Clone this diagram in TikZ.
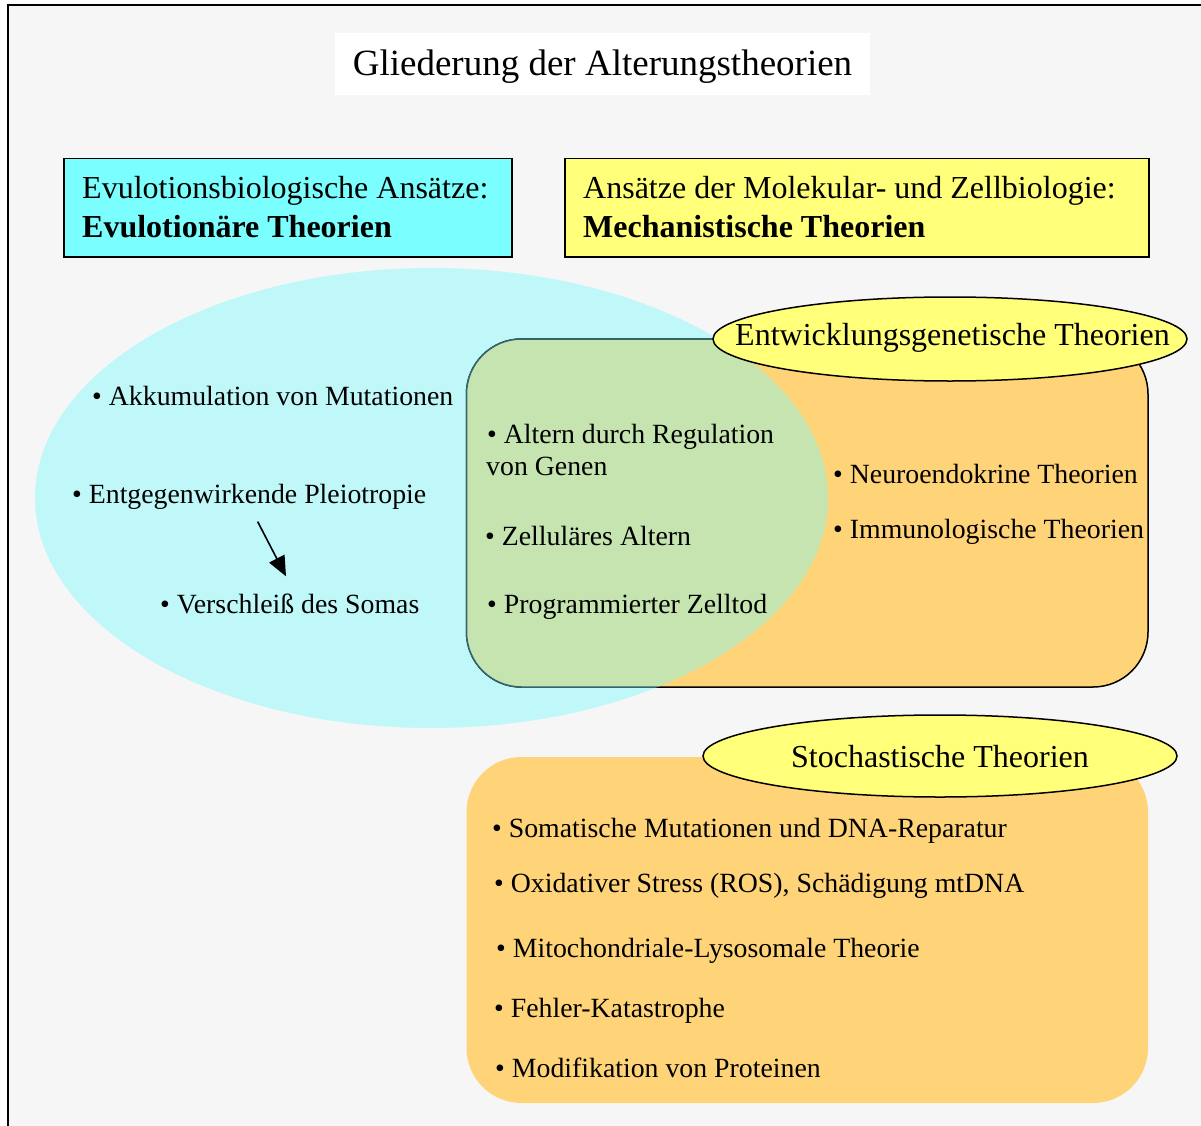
\documentclass[tikz,border=0pt]{standalone}
\usepackage{fontspec}
\setmainfont{Liberation Serif}
\usetikzlibrary{arrows.meta,positioning,shapes.geometric}

\definecolor{bggrey}{HTML}{F6F6F6}
\definecolor{cyanhead}{HTML}{7AFEFE}
\definecolor{yellowhead}{HTML}{FFFF7A}
\definecolor{cyanoval}{HTML}{C0F8F9}
\definecolor{orangebox}{HTML}{FFD479}
\definecolor{greenmix}{HTML}{C5E4B0}
\definecolor{tealline}{HTML}{33666E}

\newcommand{\titlefont}{\fontsize{37}{44}\selectfont}
\newcommand{\headfont}{\fontsize{32}{39}\selectfont}
\newcommand{\itemfont}{\fontsize{27.8}{33}\selectfont}

\begin{document}
\begin{tikzpicture}[
  x=1pt, y=-1pt,
  item/.style={anchor=base west, inner sep=0pt, font=\itemfont},
  heading/.style={anchor=base west, inner sep=0pt, font=\headfont},
  hdrbox/.style={draw, line width=1.5pt, anchor=north west, inner sep=0pt,
                 minimum height=98pt},
  oval/.style={draw, line width=1.5pt, fill=yellowhead},
  arr/.style={draw,-{Triangle[length=20pt,width=17pt]},line width=1.6pt,
              shorten <=14pt, shorten >=19pt}
]
\useasboundingbox (0,0) rectangle (1201,1126);
\clip (0,0) rectangle (1201,1126);
\fill[white] (0,0) rectangle (1201,1126);
\draw[line width=2pt, fill=bggrey] (7.5,5) rectangle (1230,1150);

% title
\node[fill=white, inner sep=0pt, minimum width=535pt, minimum height=62pt,
      text depth=3pt, font=\titlefont] (title) at (602.5,64)
      {Gliederung der Alterungstheorien};

% two headings
\node[hdrbox, fill=cyanhead, minimum width=448pt] (evobox) at (63,158) {};
\node[hdrbox, fill=yellowhead, minimum width=584pt] (molbox) at (564,158) {};
\node[heading] (evo1) at (82,198) {Evulotionsbiologische Ansätze:};
\node[heading] (evo2) at (82,237) {\bfseries Evulotionäre Theorien};
\node[heading] (mol1) at (583,198) {Ansätze der Molekular- und Zellbiologie:};
\node[heading] (mol2) at (583,237) {\bfseries Mechanistische Theorien};

% big oval and the upper box
\fill[cyanoval] (431.5,498) ellipse [x radius=396.5, y radius=230];
\draw[fill=orangebox, line width=1.5pt, rounded corners=55pt]
  (466.5,339) rectangle (1148,687);
\begin{scope}
  \clip (431.5,498) ellipse [x radius=396.5, y radius=230];
  \draw[fill=greenmix, draw=tealline, line width=1.5pt, rounded corners=55pt]
    (466.5,339) rectangle (1148,687);
\end{scope}

% lower box
\fill[orangebox, rounded corners=55pt] (466.5,757) rectangle (1148,1103);

% yellow ovals
\draw[oval] (950,339) ellipse [x radius=237, y radius=42];
\draw[oval] (940,756) ellipse [x radius=237, y radius=41];
\node[heading, anchor=base] (entw) at (952.5,345) {Entwicklungsgenetische Theorien};
\node[heading, anchor=base] (stoch) at (940,767) {Stochastische Theorien};

% evolutionary items
\node[item] (akku) at (92,405) {• Akkumulation von Mutationen};
\node[item] (pleio) at (72,503) {• Entgegenwirkende Pleiotropie};
\node[item] (soma) at (160,613) {• Verschleiß des Somas};
\draw[arr] ([xshift=2pt]pleio.south) -- ([xshift=5pt]soma.north);

% overlap items
\node[item] (regul) at (487,443) {• Altern durch Regulation};
\node[item] (genen) at (486,475) {von Genen};
\node[item] (zell) at (485,545) {• Zelluläres Altern};
\node[item] (tod) at (487,613) {• Programmierter Zelltod};

% developmental items
\node[item] (neuro) at (833,483) {• Neuroendokrine Theorien};
\node[item] (immun) at (833,538) {• Immunologische Theorien};

% stochastic items
\node[item] (soma2) at (492,837) {• Somatische Mutationen und DNA-Reparatur};
\node[item] (ros) at (494,892) {• Oxidativer Stress (ROS), Schädigung mtDNA};
\node[item] (mito) at (496,957) {• Mitochondriale-Lysosomale Theorie};
\node[item] (fehler) at (494,1017) {• Fehler-Katastrophe};
\node[item] (modif) at (495,1077) {• Modifikation von Proteinen};
\end{tikzpicture}
\end{document}
